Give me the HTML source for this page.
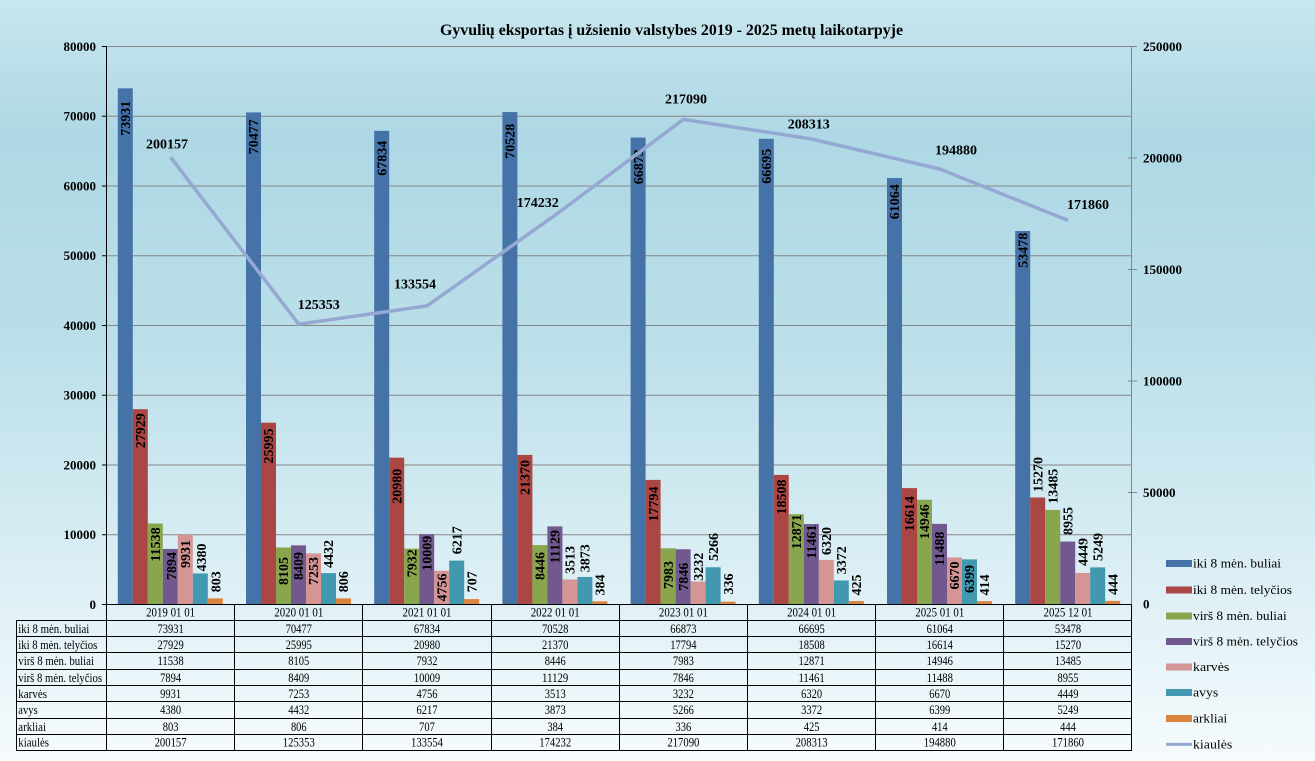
<!DOCTYPE html>
<html><head><meta charset="utf-8"><style>
html,body{margin:0;padding:0;background:#fff;}
svg{display:block;font-family:"Liberation Serif","Times New Roman",serif;}
.dl{font-size:14px;font-weight:bold;fill:#000;}
.ax{font-size:13px;font-weight:bold;fill:#000;}
.tb{font-size:12.5px;fill:#000;}
.lg{font-size:13px;fill:#000;}
</style></head><body>
<svg width="1315" height="761" viewBox="0 0 1315 761" xmlns="http://www.w3.org/2000/svg">
<defs>
<linearGradient id="bg" x1="0" y1="0" x2="0" y2="1">
<stop offset="0" stop-color="#C9E6EE"/>
<stop offset="0.18" stop-color="#AED8E5"/>
<stop offset="0.45" stop-color="#BBDFE9"/>
<stop offset="0.72" stop-color="#D8EDF4"/>
<stop offset="1" stop-color="#F6FBFD"/>
</linearGradient>
</defs>
<rect x="0" y="0" width="1315" height="761" fill="url(#bg)"/>

<text x="440" y="35" font-size="16" font-weight="bold" textLength="463" lengthAdjust="spacingAndGlyphs">Gyvulių  eksportas į užsienio  valstybes 2019 - 2025 metų laikotarpyje</text>

<!-- gridlines -->
<g stroke="#868686" stroke-width="1">
<line x1="106" y1="46.5" x2="1132" y2="46.5"/>
<line x1="106" y1="116.25" x2="1132" y2="116.25"/>
<line x1="106" y1="186" x2="1132" y2="186"/>
<line x1="106" y1="255.75" x2="1132" y2="255.75"/>
<line x1="106" y1="325.5" x2="1132" y2="325.5"/>
<line x1="106" y1="395.25" x2="1132" y2="395.25"/>
<line x1="106" y1="465" x2="1132" y2="465"/>
<line x1="106" y1="534.75" x2="1132" y2="534.75"/>
<!-- right axis -->
<line x1="1131.5" y1="46" x2="1131.5" y2="604"/>
<line x1="1128" y1="46.5" x2="1137" y2="46.5"/>
<line x1="1128" y1="158" x2="1137" y2="158"/>
<line x1="1128" y1="269.5" x2="1137" y2="269.5"/>
<line x1="1128" y1="381" x2="1137" y2="381"/>
<line x1="1128" y1="492.5" x2="1137" y2="492.5"/>
</g>
<!-- left axis -->
<g stroke="#000" stroke-width="1">
<line x1="106.5" y1="46" x2="106.5" y2="604"/>
<line x1="102" y1="46.5" x2="106" y2="46.5"/>
<line x1="102" y1="116.25" x2="106" y2="116.25"/>
<line x1="102" y1="186" x2="106" y2="186"/>
<line x1="102" y1="255.75" x2="106" y2="255.75"/>
<line x1="102" y1="325.5" x2="106" y2="325.5"/>
<line x1="102" y1="395.25" x2="106" y2="395.25"/>
<line x1="102" y1="465" x2="106" y2="465"/>
<line x1="102" y1="534.75" x2="106" y2="534.75"/>
<line x1="102" y1="604.5" x2="106" y2="604.5"/>
</g>
<g class="ax" text-anchor="end">
<text x="96" y="51">80000</text>
<text x="96" y="120.7">70000</text>
<text x="96" y="190.5">60000</text>
<text x="96" y="260.2">50000</text>
<text x="96" y="330">40000</text>
<text x="96" y="399.7">30000</text>
<text x="96" y="469.5">20000</text>
<text x="96" y="539.2">10000</text>
<text x="96" y="609">0</text>
</g>
<g class="ax">
<text x="1143" y="51">250000</text>
<text x="1143" y="162.5">200000</text>
<text x="1143" y="274">150000</text>
<text x="1143" y="385.5">100000</text>
<text x="1143" y="497">50000</text>
<text x="1143" y="608.5">0</text>
</g>

<!-- bars -->
<g>
<!-- 2019 -->
<rect x="117.8" y="88.33" width="15" height="515.67" fill="#4572A7"/>
<rect x="132.8" y="409.2" width="15" height="194.8" fill="#AA4643"/>
<rect x="147.8" y="523.52" width="15" height="80.48" fill="#89A54E"/>
<rect x="162.8" y="548.94" width="15" height="55.06" fill="#71588F"/>
<rect x="177.8" y="534.73" width="15" height="69.27" fill="#D69595"/>
<rect x="192.8" y="573.45" width="15" height="30.55" fill="#4198AF"/>
<rect x="207.8" y="598.4" width="15" height="5.6" fill="#DB843D"/>
<!-- 2020 -->
<rect x="246" y="112.42" width="15" height="491.58" fill="#4572A7"/>
<rect x="261" y="422.69" width="15" height="181.31" fill="#AA4643"/>
<rect x="276" y="547.47" width="15" height="56.53" fill="#89A54E"/>
<rect x="291" y="545.35" width="15" height="58.65" fill="#71588F"/>
<rect x="306" y="553.41" width="15" height="50.59" fill="#D69595"/>
<rect x="321" y="573.09" width="15" height="30.91" fill="#4198AF"/>
<rect x="336" y="598.38" width="15" height="5.62" fill="#DB843D"/>
<!-- 2021 -->
<rect x="374.2" y="130.86" width="15" height="473.14" fill="#4572A7"/>
<rect x="389.2" y="457.66" width="15" height="146.34" fill="#AA4643"/>
<rect x="404.2" y="548.67" width="15" height="55.33" fill="#89A54E"/>
<rect x="419.2" y="534.19" width="15" height="69.81" fill="#71588F"/>
<rect x="434.2" y="570.83" width="15" height="33.17" fill="#D69595"/>
<rect x="449.2" y="560.64" width="15" height="43.36" fill="#4198AF"/>
<rect x="464.2" y="599.07" width="15" height="4.93" fill="#DB843D"/>
<!-- 2022 -->
<rect x="502.4" y="112.07" width="15" height="491.93" fill="#4572A7"/>
<rect x="517.4" y="454.94" width="15" height="149.06" fill="#AA4643"/>
<rect x="532.4" y="545.09" width="15" height="58.91" fill="#89A54E"/>
<rect x="547.4" y="526.38" width="15" height="77.62" fill="#71588F"/>
<rect x="562.4" y="579.5" width="15" height="24.5" fill="#D69595"/>
<rect x="577.4" y="576.99" width="15" height="27.01" fill="#4198AF"/>
<rect x="592.4" y="601.32" width="15" height="2.68" fill="#DB843D"/>
<!-- 2023 -->
<rect x="630.6" y="137.56" width="15" height="466.44" fill="#4572A7"/>
<rect x="645.6" y="479.89" width="15" height="124.11" fill="#AA4643"/>
<rect x="660.6" y="548.32" width="15" height="55.68" fill="#89A54E"/>
<rect x="675.6" y="549.27" width="15" height="54.73" fill="#71588F"/>
<rect x="690.6" y="581.46" width="15" height="22.54" fill="#D69595"/>
<rect x="705.6" y="567.27" width="15" height="36.73" fill="#4198AF"/>
<rect x="720.6" y="601.66" width="15" height="2.34" fill="#DB843D"/>
<!-- 2024 -->
<rect x="758.8" y="138.8" width="15" height="465.2" fill="#4572A7"/>
<rect x="773.8" y="474.91" width="15" height="129.09" fill="#AA4643"/>
<rect x="788.8" y="514.22" width="15" height="89.78" fill="#89A54E"/>
<rect x="803.8" y="524.06" width="15" height="79.94" fill="#71588F"/>
<rect x="818.8" y="559.92" width="15" height="44.08" fill="#D69595"/>
<rect x="833.8" y="580.48" width="15" height="23.52" fill="#4198AF"/>
<rect x="848.8" y="601.04" width="15" height="2.96" fill="#DB843D"/>
<!-- 2025 01 -->
<rect x="887" y="178.08" width="15" height="425.92" fill="#4572A7"/>
<rect x="902" y="488.12" width="15" height="115.88" fill="#AA4643"/>
<rect x="917" y="499.75" width="15" height="104.25" fill="#89A54E"/>
<rect x="932" y="523.87" width="15" height="80.13" fill="#71588F"/>
<rect x="947" y="557.48" width="15" height="46.52" fill="#D69595"/>
<rect x="962" y="559.37" width="15" height="44.63" fill="#4198AF"/>
<rect x="977" y="601.11" width="15" height="2.89" fill="#DB843D"/>
<!-- 2025 12 -->
<rect x="1015.2" y="230.99" width="15" height="373.01" fill="#4572A7"/>
<rect x="1030.2" y="497.49" width="15" height="106.51" fill="#AA4643"/>
<rect x="1045.2" y="509.94" width="15" height="94.06" fill="#89A54E"/>
<rect x="1060.2" y="541.54" width="15" height="62.46" fill="#71588F"/>
<rect x="1075.2" y="572.97" width="15" height="31.03" fill="#D69595"/>
<rect x="1090.2" y="567.39" width="15" height="36.61" fill="#4198AF"/>
<rect x="1105.2" y="600.9" width="15" height="3.1" fill="#DB843D"/>
</g>

<!-- bar data labels -->
<g class="dl" text-anchor="middle">
<text transform="translate(125.3,118.3) rotate(-90)" y="4.7">73931</text>
<text transform="translate(140.3,430.7) rotate(-90)" y="4.7">27929</text>
<text transform="translate(155.3,544.5) rotate(-90)" y="4.7">11538</text>
<text transform="translate(171.3,566) rotate(-90)" y="4.7">7894</text>
<text transform="translate(185.3,554) rotate(-90)" y="4.7">9931</text>
<text transform="translate(201.3,557.5) rotate(-90)" y="4.7">4380</text>
<text transform="translate(215.8,581.7) rotate(-90)" y="4.7">803</text>

<text transform="translate(253.5,136.7) rotate(-90)" y="4.7">70477</text>
<text transform="translate(268.5,446) rotate(-90)" y="4.7">25995</text>
<text transform="translate(283.5,571) rotate(-90)" y="4.7">8105</text>
<text transform="translate(298.5,566) rotate(-90)" y="4.7">8409</text>
<text transform="translate(313.5,571) rotate(-90)" y="4.7">7253</text>
<text transform="translate(328.5,554) rotate(-90)" y="4.7">4432</text>
<text transform="translate(343.5,581.7) rotate(-90)" y="4.7">806</text>

<text transform="translate(381.7,158.3) rotate(-90)" y="4.7">67834</text>
<text transform="translate(396.7,486.3) rotate(-90)" y="4.7">20980</text>
<text transform="translate(411.7,563.3) rotate(-90)" y="4.7">7932</text>
<text transform="translate(426.7,553.3) rotate(-90)" y="4.7">10009</text>
<text transform="translate(441.7,587.5) rotate(-90)" y="4.7">4756</text>
<text transform="translate(456.7,540.3) rotate(-90)" y="4.7">6217</text>
<text transform="translate(471.7,581.7) rotate(-90)" y="4.7">707</text>

<text transform="translate(509.9,141.3) rotate(-90)" y="4.7">70528</text>
<text transform="translate(524.9,477.5) rotate(-90)" y="4.7">21370</text>
<text transform="translate(539.9,566) rotate(-90)" y="4.7">8446</text>
<text transform="translate(554.9,546.7) rotate(-90)" y="4.7">11129</text>
<text transform="translate(569.9,560) rotate(-90)" y="4.7">3513</text>
<text transform="translate(584.9,558.3) rotate(-90)" y="4.7">3873</text>
<text transform="translate(599.9,585) rotate(-90)" y="4.7">384</text>

<text transform="translate(638.1,166.7) rotate(-90)" y="4.7">66873</text>
<text transform="translate(653.1,504) rotate(-90)" y="4.7">17794</text>
<text transform="translate(668.1,575) rotate(-90)" y="4.7">7983</text>
<text transform="translate(683.1,576.7) rotate(-90)" y="4.7">7846</text>
<text transform="translate(698.1,566.7) rotate(-90)" y="4.7">3232</text>
<text transform="translate(713.1,547) rotate(-90)" y="4.7">5266</text>
<text transform="translate(728.1,584) rotate(-90)" y="4.7">336</text>

<text transform="translate(766.3,166.3) rotate(-90)" y="4.7">66695</text>
<text transform="translate(781.3,497) rotate(-90)" y="4.7">18508</text>
<text transform="translate(796.3,531.7) rotate(-90)" y="4.7">12871</text>
<text transform="translate(811.3,541.7) rotate(-90)" y="4.7">11461</text>
<text transform="translate(826.3,541) rotate(-90)" y="4.7">6320</text>
<text transform="translate(841.3,560.3) rotate(-90)" y="4.7">3372</text>
<text transform="translate(856.3,585) rotate(-90)" y="4.7">425</text>

<text transform="translate(894.5,201.7) rotate(-90)" y="4.7">61064</text>
<text transform="translate(909.5,513.7) rotate(-90)" y="4.7">16614</text>
<text transform="translate(924.5,521.7) rotate(-90)" y="4.7">14946</text>
<text transform="translate(939.5,548.7) rotate(-90)" y="4.7">11488</text>
<text transform="translate(954.5,575.5) rotate(-90)" y="4.7">6670</text>
<text transform="translate(969.5,579) rotate(-90)" y="4.7">6399</text>
<text transform="translate(984.5,585) rotate(-90)" y="4.7">414</text>

<text transform="translate(1022.7,250.3) rotate(-90)" y="4.7">53478</text>
<text transform="translate(1037.7,474.5) rotate(-90)" y="4.7">15270</text>
<text transform="translate(1052.7,486.3) rotate(-90)" y="4.7">13485</text>
<text transform="translate(1067.7,521) rotate(-90)" y="4.7">8955</text>
<text transform="translate(1082.7,552) rotate(-90)" y="4.7">4449</text>
<text transform="translate(1097.7,547) rotate(-90)" y="4.7">5249</text>
<text transform="translate(1112.7,584.5) rotate(-90)" y="4.7">444</text>
</g>

<!-- line -->
<polyline points="170.6,157.2 298.8,324.2 427,305.9 555.2,215.1 683.4,119.4 811.6,139 939.8,169 1068,220.4" fill="none" stroke="#95A8D2" stroke-width="3.5" stroke-linejoin="round"/>
<g class="dl" text-anchor="middle">
<text x="167" y="148.4">200157</text>
<text x="318.8" y="309">125353</text>
<text x="415" y="288.4">133554</text>
<text x="537.8" y="207">174232</text>
<text x="686" y="103.4">217090</text>
<text x="808.8" y="128.4">208313</text>
<text x="956" y="154.4">194880</text>
<text x="1088" y="209">171860</text>
</g>

<!-- table -->
<g stroke="#000" stroke-width="1">
<line x1="102" y1="604.5" x2="1132" y2="604.5"/>
<line x1="16" y1="620.5" x2="1132" y2="620.5"/>
<line x1="16" y1="636.5" x2="1132" y2="636.5"/>
<line x1="16" y1="652.5" x2="1132" y2="652.5"/>
<line x1="16" y1="669.5" x2="1132" y2="669.5"/>
<line x1="16" y1="685.5" x2="1132" y2="685.5"/>
<line x1="16" y1="701.5" x2="1132" y2="701.5"/>
<line x1="16" y1="718.5" x2="1132" y2="718.5"/>
<line x1="16" y1="734.5" x2="1132" y2="734.5"/>
<line x1="16" y1="750.5" x2="1132" y2="750.5"/>
<line x1="16.5" y1="620" x2="16.5" y2="751"/>
<line x1="106.5" y1="604" x2="106.5" y2="751"/>
<line x1="234.5" y1="604" x2="234.5" y2="751"/>
<line x1="362.5" y1="604" x2="362.5" y2="751"/>
<line x1="491.5" y1="604" x2="491.5" y2="751"/>
<line x1="619.5" y1="604" x2="619.5" y2="751"/>
<line x1="747.5" y1="604" x2="747.5" y2="751"/>
<line x1="875.5" y1="604" x2="875.5" y2="751"/>
<line x1="1003.5" y1="604" x2="1003.5" y2="751"/>
<line x1="1131.5" y1="604" x2="1131.5" y2="751"/>
</g>
<g class="tb">
<text x="18.3" y="633" textLength="71" lengthAdjust="spacingAndGlyphs">iki 8 mėn. buliai</text>
<text x="18.3" y="649" textLength="79" lengthAdjust="spacingAndGlyphs">iki 8 mėn. telyčios</text>
<text x="18.3" y="665" textLength="75.7" lengthAdjust="spacingAndGlyphs">virš 8 mėn. buliai</text>
<text x="18.3" y="682" textLength="83.7" lengthAdjust="spacingAndGlyphs">virš 8 mėn. telyčios</text>
<text x="18.3" y="698" textLength="28.7" lengthAdjust="spacingAndGlyphs">karvės</text>
<text x="18.3" y="714" textLength="19.4" lengthAdjust="spacingAndGlyphs">avys</text>
<text x="18.3" y="731" textLength="27.7" lengthAdjust="spacingAndGlyphs">arkliai</text>
<text x="18.3" y="746.7" textLength="30.7" lengthAdjust="spacingAndGlyphs">kiaulės</text>
</g>
<g class="tb" text-anchor="middle">
<text x="170.6" y="616.5" textLength="49" lengthAdjust="spacingAndGlyphs">2019 01 01</text>
<text x="298.8" y="616.5" textLength="49" lengthAdjust="spacingAndGlyphs">2020 01 01</text>
<text x="427" y="616.5" textLength="49" lengthAdjust="spacingAndGlyphs">2021 01 01</text>
<text x="555.2" y="616.5" textLength="49" lengthAdjust="spacingAndGlyphs">2022 01 01</text>
<text x="683.4" y="616.5" textLength="49" lengthAdjust="spacingAndGlyphs">2023 01 01</text>
<text x="811.6" y="616.5" textLength="49" lengthAdjust="spacingAndGlyphs">2024 01 01</text>
<text x="939.8" y="616.5" textLength="49" lengthAdjust="spacingAndGlyphs">2025 01 01</text>
<text x="1068" y="616.5" textLength="49" lengthAdjust="spacingAndGlyphs">2025 12 01</text>

<text x="170.6" y="633" textLength="26.3" lengthAdjust="spacingAndGlyphs">73931</text>
<text x="298.8" y="633" textLength="26.3" lengthAdjust="spacingAndGlyphs">70477</text>
<text x="427" y="633" textLength="26.3" lengthAdjust="spacingAndGlyphs">67834</text>
<text x="555.2" y="633" textLength="26.3" lengthAdjust="spacingAndGlyphs">70528</text>
<text x="683.4" y="633" textLength="26.3" lengthAdjust="spacingAndGlyphs">66873</text>
<text x="811.6" y="633" textLength="26.3" lengthAdjust="spacingAndGlyphs">66695</text>
<text x="939.8" y="633" textLength="26.3" lengthAdjust="spacingAndGlyphs">61064</text>
<text x="1068" y="633" textLength="26.3" lengthAdjust="spacingAndGlyphs">53478</text>

<text x="170.6" y="649" textLength="26.3" lengthAdjust="spacingAndGlyphs">27929</text>
<text x="298.8" y="649" textLength="26.3" lengthAdjust="spacingAndGlyphs">25995</text>
<text x="427" y="649" textLength="26.3" lengthAdjust="spacingAndGlyphs">20980</text>
<text x="555.2" y="649" textLength="26.3" lengthAdjust="spacingAndGlyphs">21370</text>
<text x="683.4" y="649" textLength="26.3" lengthAdjust="spacingAndGlyphs">17794</text>
<text x="811.6" y="649" textLength="26.3" lengthAdjust="spacingAndGlyphs">18508</text>
<text x="939.8" y="649" textLength="26.3" lengthAdjust="spacingAndGlyphs">16614</text>
<text x="1068" y="649" textLength="26.3" lengthAdjust="spacingAndGlyphs">15270</text>

<text x="170.6" y="665" textLength="26.3" lengthAdjust="spacingAndGlyphs">11538</text>
<text x="298.8" y="665" textLength="21" lengthAdjust="spacingAndGlyphs">8105</text>
<text x="427" y="665" textLength="21" lengthAdjust="spacingAndGlyphs">7932</text>
<text x="555.2" y="665" textLength="21" lengthAdjust="spacingAndGlyphs">8446</text>
<text x="683.4" y="665" textLength="21" lengthAdjust="spacingAndGlyphs">7983</text>
<text x="811.6" y="665" textLength="26.3" lengthAdjust="spacingAndGlyphs">12871</text>
<text x="939.8" y="665" textLength="26.3" lengthAdjust="spacingAndGlyphs">14946</text>
<text x="1068" y="665" textLength="26.3" lengthAdjust="spacingAndGlyphs">13485</text>

<text x="170.6" y="682" textLength="21" lengthAdjust="spacingAndGlyphs">7894</text>
<text x="298.8" y="682" textLength="21" lengthAdjust="spacingAndGlyphs">8409</text>
<text x="427" y="682" textLength="26.3" lengthAdjust="spacingAndGlyphs">10009</text>
<text x="555.2" y="682" textLength="26.3" lengthAdjust="spacingAndGlyphs">11129</text>
<text x="683.4" y="682" textLength="21" lengthAdjust="spacingAndGlyphs">7846</text>
<text x="811.6" y="682" textLength="26.3" lengthAdjust="spacingAndGlyphs">11461</text>
<text x="939.8" y="682" textLength="26.3" lengthAdjust="spacingAndGlyphs">11488</text>
<text x="1068" y="682" textLength="21" lengthAdjust="spacingAndGlyphs">8955</text>

<text x="170.6" y="698" textLength="21" lengthAdjust="spacingAndGlyphs">9931</text>
<text x="298.8" y="698" textLength="21" lengthAdjust="spacingAndGlyphs">7253</text>
<text x="427" y="698" textLength="21" lengthAdjust="spacingAndGlyphs">4756</text>
<text x="555.2" y="698" textLength="21" lengthAdjust="spacingAndGlyphs">3513</text>
<text x="683.4" y="698" textLength="21" lengthAdjust="spacingAndGlyphs">3232</text>
<text x="811.6" y="698" textLength="21" lengthAdjust="spacingAndGlyphs">6320</text>
<text x="939.8" y="698" textLength="21" lengthAdjust="spacingAndGlyphs">6670</text>
<text x="1068" y="698" textLength="21" lengthAdjust="spacingAndGlyphs">4449</text>

<text x="170.6" y="714" textLength="21" lengthAdjust="spacingAndGlyphs">4380</text>
<text x="298.8" y="714" textLength="21" lengthAdjust="spacingAndGlyphs">4432</text>
<text x="427" y="714" textLength="21" lengthAdjust="spacingAndGlyphs">6217</text>
<text x="555.2" y="714" textLength="21" lengthAdjust="spacingAndGlyphs">3873</text>
<text x="683.4" y="714" textLength="21" lengthAdjust="spacingAndGlyphs">5266</text>
<text x="811.6" y="714" textLength="21" lengthAdjust="spacingAndGlyphs">3372</text>
<text x="939.8" y="714" textLength="21" lengthAdjust="spacingAndGlyphs">6399</text>
<text x="1068" y="714" textLength="21" lengthAdjust="spacingAndGlyphs">5249</text>

<text x="170.6" y="731" textLength="15.7" lengthAdjust="spacingAndGlyphs">803</text>
<text x="298.8" y="731" textLength="15.7" lengthAdjust="spacingAndGlyphs">806</text>
<text x="427" y="731" textLength="15.7" lengthAdjust="spacingAndGlyphs">707</text>
<text x="555.2" y="731" textLength="15.7" lengthAdjust="spacingAndGlyphs">384</text>
<text x="683.4" y="731" textLength="15.7" lengthAdjust="spacingAndGlyphs">336</text>
<text x="811.6" y="731" textLength="15.7" lengthAdjust="spacingAndGlyphs">425</text>
<text x="939.8" y="731" textLength="15.7" lengthAdjust="spacingAndGlyphs">414</text>
<text x="1068" y="731" textLength="15.7" lengthAdjust="spacingAndGlyphs">444</text>

<text x="170.6" y="746.7" textLength="32" lengthAdjust="spacingAndGlyphs">200157</text>
<text x="298.8" y="746.7" textLength="32" lengthAdjust="spacingAndGlyphs">125353</text>
<text x="427" y="746.7" textLength="32" lengthAdjust="spacingAndGlyphs">133554</text>
<text x="555.2" y="746.7" textLength="32" lengthAdjust="spacingAndGlyphs">174232</text>
<text x="683.4" y="746.7" textLength="32" lengthAdjust="spacingAndGlyphs">217090</text>
<text x="811.6" y="746.7" textLength="32" lengthAdjust="spacingAndGlyphs">208313</text>
<text x="939.8" y="746.7" textLength="32" lengthAdjust="spacingAndGlyphs">194880</text>
<text x="1068" y="746.7" textLength="32" lengthAdjust="spacingAndGlyphs">171860</text>
</g>

<!-- legend -->
<rect x="1166" y="560" width="26" height="7" fill="#4572A7"/>
<rect x="1166" y="586.5" width="26" height="7" fill="#AA4643"/>
<rect x="1166" y="612.5" width="26" height="7" fill="#89A54E"/>
<rect x="1166" y="638" width="26" height="7" fill="#71588F"/>
<rect x="1166" y="663.5" width="26" height="7" fill="#D69595"/>
<rect x="1166" y="689" width="26" height="7" fill="#4198AF"/>
<rect x="1166" y="715" width="26" height="7" fill="#DB843D"/>
<rect x="1166" y="742.8" width="26" height="3" fill="#95A8D2"/>
<g class="lg">
<text x="1193" y="567.5" textLength="88" lengthAdjust="spacingAndGlyphs">iki 8 mėn. buliai</text>
<text x="1193" y="594" textLength="99" lengthAdjust="spacingAndGlyphs">iki 8 mėn. telyčios</text>
<text x="1193" y="620" textLength="93.7" lengthAdjust="spacingAndGlyphs">virš 8 mėn. buliai</text>
<text x="1193" y="645.5" textLength="105" lengthAdjust="spacingAndGlyphs">virš 8 mėn. telyčios</text>
<text x="1193" y="671" textLength="36.3" lengthAdjust="spacingAndGlyphs">karvės</text>
<text x="1193" y="696.5" textLength="25.3" lengthAdjust="spacingAndGlyphs">avys</text>
<text x="1193" y="722.5" textLength="34.3" lengthAdjust="spacingAndGlyphs">arkliai</text>
<text x="1193" y="748.5" textLength="39.3" lengthAdjust="spacingAndGlyphs">kiaulės</text>
</g>
</svg>
</body></html>
